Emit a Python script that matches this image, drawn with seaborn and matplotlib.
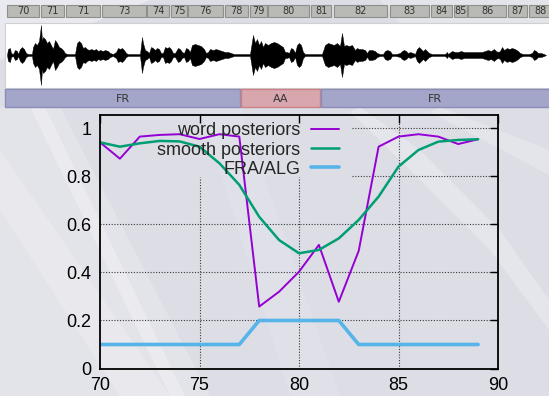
import matplotlib
matplotlib.use("Agg")
import matplotlib.pyplot as plt
import seaborn as sns
import pandas as pd
from matplotlib.patches import Rectangle, Polygon

# --- posterior curves (x = word index) ---
word_x = list(range(70, 90))
word_post = [0.942, 0.874, 0.966, 0.973, 0.976, 0.956, 0.976, 0.966, 0.258, 0.32,
             0.403, 0.515, 0.278, 0.49, 0.924, 0.966, 0.976, 0.966, 0.935, 0.955]
smooth_post = [0.942, 0.924, 0.938, 0.948, 0.946, 0.924, 0.855, 0.765, 0.632, 0.535,
               0.48, 0.494, 0.542, 0.619, 0.716, 0.841, 0.91, 0.945, 0.952, 0.955]
fra_alg = [0.1, 0.1, 0.1, 0.1, 0.1, 0.1, 0.1, 0.1, 0.2, 0.2,
           0.2, 0.2, 0.2, 0.1, 0.1, 0.1, 0.1, 0.1, 0.1, 0.1]

# --- audio strip (x in screen samples) ---
word_labels = ["70", "71", "71", "73", "74", "75", "76", "78", "79", "80", "81",
               "82", "83", "84", "85", "86", "87", "88"]
word_starts = [7, 41, 66, 102, 147, 171, 188, 225, 250, 268, 311, 334, 390, 431, 454, 468, 508, 529]
word_ends = [39, 64, 100, 146, 169, 187, 223, 248, 267, 309, 331, 387, 429, 452, 467, 506, 527, 552]

lang_labels = ["FR", "AA", "FR"]
lang_starts = [5, 241, 321]
lang_ends = [240, 320, 552]

wave_env = [
    (7, 0), (8, 6), (10, 7), (11, 2), (13, 1), (15, 5), (17, 4), (18, 1), (20, 6), (22, 8),
    (24, 6), (26, 2), (28, 1), (32, 1), (33, 8), (35, 12), (37, 10), (39, 14), (41, 30), (42, 14),
    (43, 18), (45, 16), (47, 12), (49, 14), (51, 10), (53, 6), (55, 15), (57, 12), (59, 8), (61, 7),
    (63, 5), (65, 2), (67, 1), (75, 1), (77, 12), (79, 14), (81, 12), (83, 7), (85, 8), (87, 6),
    (89, 5), (91, 6), (94, 5), (96, 6), (98, 4), (100, 5), (103, 4), (105, 5), (108, 4), (110, 2),
    (113, 1), (116, 3), (118, 7), (120, 6), (122, 7), (124, 5), (126, 2), (128, 1), (140, 1),
    (142, 18), (143, 12), (145, 5), (147, 4), (149, 2), (151, 8), (153, 7), (155, 5), (157, 7),
    (159, 6), (161, 2), (163, 2), (165, 8), (167, 7), (169, 8), (171, 6), (173, 2), (175, 2),
    (178, 7), (180, 6), (182, 3), (184, 2), (186, 7), (188, 6), (190, 3), (192, 10), (195, 11),
    (198, 10), (201, 9), (204, 6), (206, 2), (208, 3), (210, 6), (213, 5), (216, 6), (219, 5),
    (222, 4), (225, 3), (228, 3), (231, 2), (234, 1), (250, 1), (253, 20), (255, 12), (257, 16),
    (259, 10), (261, 14), (263, 8), (265, 12), (268, 10), (271, 12), (274, 13), (277, 12),
    (280, 10), (283, 8), (285, 3), (287, 3), (289, 2), (291, 7), (293, 6), (295, 2), (297, 10),
    (299, 12), (301, 10), (303, 3), (305, 1), (322, 1), (325, 10), (328, 12), (331, 11),
    (334, 10), (337, 12), (340, 9), (342, 22), (344, 9), (346, 10), (349, 9), (352, 10),
    (355, 5), (357, 7), (359, 6), (362, 6), (365, 5), (367, 2), (369, 5), (372, 5), (375, 4),
    (377, 2), (380, 1), (383, 1), (385, 4), (387, 5), (390, 4), (392, 1), (396, 1), (400, 2),
    (402, 4), (404, 5), (406, 4), (408, 2), (410, 3), (413, 2), (415, 1), (417, 6), (419, 8),
    (421, 6), (423, 4), (425, 6), (427, 4), (429, 2), (432, 1), (445, 1), (447, 3), (448, 1),
    (452, 4), (455, 3), (458, 3), (461, 4), (464, 3), (467, 3), (470, 3), (473, 3), (476, 3),
    (479, 3), (482, 3), (485, 4), (488, 5), (491, 4), (494, 6), (496, 4), (498, 3), (500, 4),
    (502, 8), (504, 5), (507, 7), (509, 6), (512, 7), (515, 6), (518, 4), (520, 2), (523, 1),
    (529, 1), (532, 2), (534, 5), (536, 4), (538, 2), (541, 2), (544, 1), (546, 0),
]

sns.set_theme(style="white")
plt.rcParams["font.family"] = ["Liberation Sans", "DejaVu Sans"]

fig = plt.figure(figsize=(5.49, 3.96), dpi=100)
fig.patch.set_facecolor("#dcdde5")

# full-figure canvas in pixel coords for background and audio strip
bg = fig.add_axes([0, 0, 1, 1], zorder=0)
bg.set_xlim(0, 549)
bg.set_ylim(396, 0)
bg.axis("off")

# soft diagonal streaks of the slide background
for pts, a in [
    ([(0, 107), (0, 396), (210, 396), (60, 107)], 0.22),
    ([(0, 150), (0, 210), (120, 396), (170, 396)], 0.18),
    ([(30, 107), (45, 107), (185, 396), (170, 396)], 0.25),
    ([(200, 107), (240, 107), (340, 396), (290, 396)], 0.12),
    ([(360, 107), (420, 150), (500, 230), (549, 300), (549, 330), (490, 250), (400, 160), (350, 112)], 0.28),
    ([(440, 107), (549, 150), (549, 175), (430, 112)], 0.25),
    ([(380, 0), (549, 0), (549, 107), (470, 107)], 0.25),
    ([(0, 0), (150, 0), (0, 60)], 0.4),
]:
    bg.add_patch(Polygon(pts, closed=True, facecolor="white", edgecolor="none", alpha=a))

# word boxes
for s, e, lab in zip(word_starts, word_ends, word_labels):
    bg.add_patch(Rectangle((s, 5), e - s, 12, facecolor="#b9b9b5", edgecolor="#8e8e8a", lw=0.8))
    bg.text((s + e) / 2, 11.5, lab, ha="center", va="center", fontsize=7,
            family="DejaVu Sans", color="#333333")

# waveform
bg.add_patch(Rectangle((5, 23), 547, 65, facecolor="white", edgecolor="#d0d0d0", lw=0.8))
wx = [p[0] for p in wave_env]
wa = [p[1] for p in wave_env]
center = 55
bg.fill_between(wx, [center - a for a in wa], [center + a for a in wa],
                color="black", lw=0.3, edgecolor="black")

# language bar
lang_colors = {"FR": ("#a3a6c9", "#8a8db8"), "AA": ("#d8a7ad", "#cc7f86")}
for s, e, lab in zip(lang_starts, lang_ends, lang_labels):
    fc, ec = lang_colors[lab]
    bg.add_patch(Rectangle((s, 89), e - s, 18, facecolor=fc, edgecolor=ec, lw=1))
    bg.text((s + min(e, 549)) / 2, 98.5, lab, ha="center", va="center",
            fontsize=8, family="DejaVu Sans", color="#333333")

# main plot
ax = fig.add_axes([100 / 549, (396 - 368.5) / 396, 398 / 549, 253.5 / 396], zorder=2)
ax.patch.set_alpha(0)

df = pd.DataFrame({"x": word_x, "word": word_post, "smooth": smooth_post, "fra": fra_alg})
sns.lineplot(data=df, x="x", y="word", ax=ax, color="#9400d3", lw=1.4, label="word posteriors")
sns.lineplot(data=df, x="x", y="smooth", ax=ax, color="#009e73", lw=1.8, label="smooth posteriors")
sns.lineplot(data=df, x="x", y="fra", ax=ax, color="#56b4e9", lw=2.6, label="FRA/ALG")

ax.set_xlim(70, 90)
ax.set_ylim(0, 1.056)
ax.set_xticks([70, 75, 80, 85, 90])
ax.set_yticks([0, 0.2, 0.4, 0.6, 0.8, 1])
ax.set_yticklabels(["0", "0.2", "0.4", "0.6", "0.8", "1"])
ax.set_xlabel("")
ax.set_ylabel("")
ax.tick_params(direction="in", length=6, width=1, top=True, right=True,
               labelsize=13, colors="black", pad=6)
for sp in ax.spines.values():
    sp.set_color("black")
    sp.set_linewidth(1.3)

# grid, kept clear of the key area
gkw = dict(color="black", lw=0.8, ls=(0, (1, 1.5)), alpha=0.75, zorder=0)
for yv in [0.2, 0.4, 0.6]:
    ax.axhline(yv, **gkw)
for yv in [0.8, 1.0]:
    ax.axhline(yv, xmin=0.633, **gkw)
for xv in [75, 80]:
    ax.axvline(xv, ymax=0.757, **gkw)
ax.axvline(85, **gkw)

ax.legend(loc="upper right", bbox_to_anchor=(0.6055, 0.978), frameon=False, markerfirst=False,
          fontsize=13, handlelength=1.55, handletextpad=0.6, labelspacing=0.12,
          borderpad=0.1, borderaxespad=0)

fig.savefig("out.png", dpi=100, facecolor=fig.get_facecolor())
